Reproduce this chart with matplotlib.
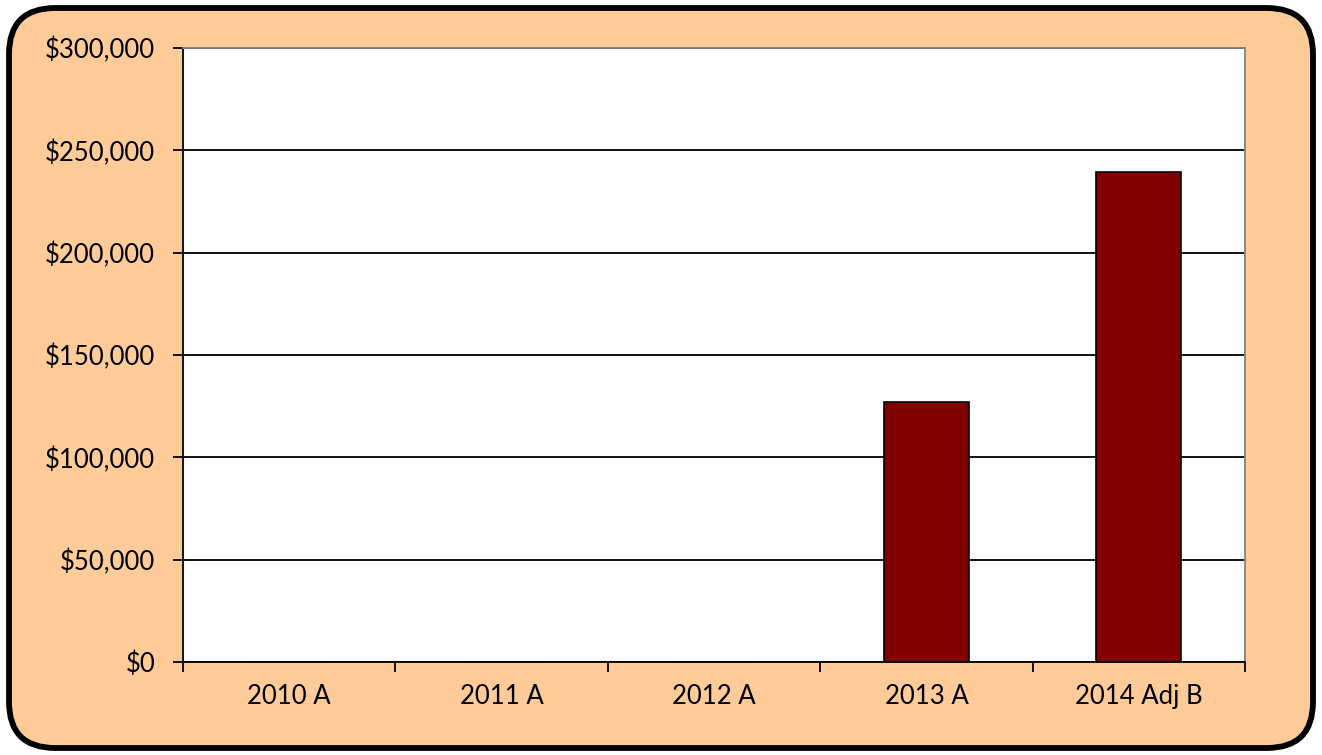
import matplotlib
matplotlib.use("Agg")
import matplotlib.pyplot as plt
from matplotlib.patches import FancyBboxPatch
from matplotlib.ticker import FuncFormatter
import numpy as np

categories = ["2010 A", "2011 A", "2012 A", "2013 A", "2014 Adj B"]
values = [0, 0, 0, 127000, 239500]
yticks = [0, 50000, 100000, 150000, 200000, 250000, 300000]

plt.rcParams['font.family'] = ['Lato', 'DejaVu Sans']

fig = plt.figure(figsize=(13.22, 7.55), dpi=100)
fig.patch.set_facecolor("white")

frame = FancyBboxPatch((9/1322, 7/755), 1304/1322, 740/755,
                       boxstyle="round,pad=0,rounding_size=0.035",
                       transform=fig.transFigure, facecolor="#FFCC99",
                       edgecolor="black", linewidth=4.2, zorder=-5,
                       mutation_aspect=1322/755)
fig.patches.append(frame)

ax = fig.add_axes([183/1322, 93/755, 1062/1322, 614/755])
ax.set_zorder(2)
ax.set_facecolor("white")
x = np.arange(len(categories))
ax.bar(x, values, width=0.4, color="#800000", edgecolor="black", linewidth=1.2, zorder=3)

ax.set_xlim(-0.5, len(categories) - 0.5)
ax.set_ylim(0, 300000)
ax.set_yticks(yticks)
ax.yaxis.set_major_formatter(FuncFormatter(lambda v, p: "${:,.0f}".format(v)))
ax.yaxis.grid(True, color="black", linewidth=1.3, zorder=1)
ax.set_axisbelow(True)

ax.set_xticks(np.arange(-0.5, len(categories), 1.0))
ax.set_xticklabels([])
ax.set_xticks(x, minor=True)
ax.set_xticklabels(categories, minor=True)
ax.tick_params(axis="x", which="major", length=7, width=1.3, color="black", direction="out")
ax.tick_params(axis="x", which="minor", length=0, pad=16, labelsize=18.5)
ax.tick_params(axis="y", length=7, width=1.3, color="black", pad=13, labelsize=18.5)

ax.spines["left"].set_color("black")
ax.spines["left"].set_linewidth(1.3)
ax.spines["bottom"].set_color("black")
ax.spines["bottom"].set_linewidth(1.3)
ax.spines["top"].set_color("#808080")
ax.spines["right"].set_color("#808080")
ax.spines["top"].set_linewidth(1.3)
ax.spines["right"].set_linewidth(1.3)

fig.savefig("out.png", dpi=100, facecolor=fig.get_facecolor())
